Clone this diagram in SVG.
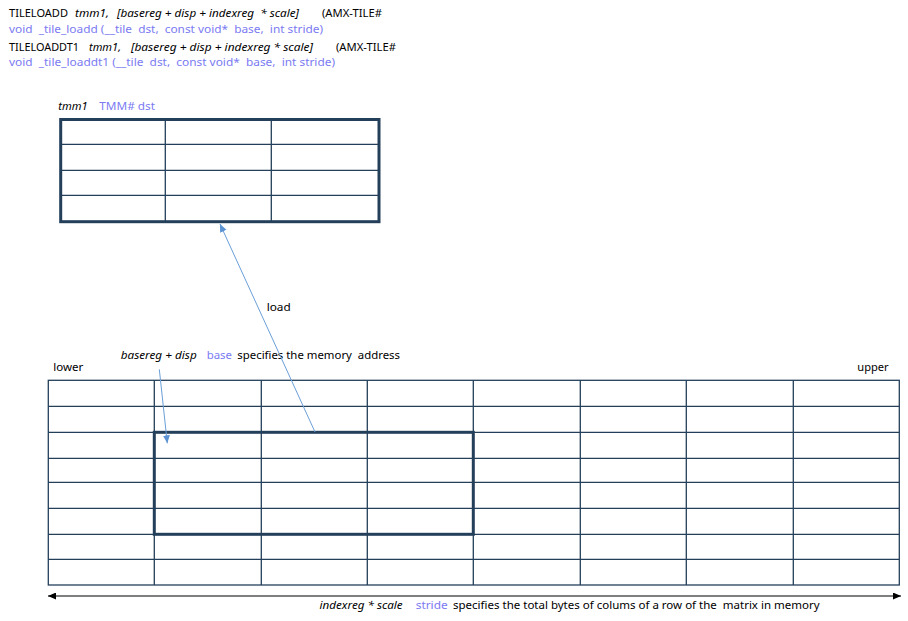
<svg xmlns="http://www.w3.org/2000/svg" width="908" height="621" viewBox="0 0 908 621">
<style>
text{font-family:"Noto Sans","Liberation Sans",Arial,sans-serif;font-size:10px;fill:#000;white-space:pre}
.i{font-style:italic}
.b{fill:#7b7bf2}
.g{stroke:#243f5a;stroke-width:1.3;fill:none}
.t{stroke:#243f5a;stroke-width:3;fill:none}
.a{stroke:#6a9fd8;stroke-width:1;fill:none}
.k{stroke:#000;stroke-width:1.2;fill:none}
</style>
<defs>
<marker id="ba" markerUnits="userSpaceOnUse" markerWidth="10" markerHeight="10" refX="8" refY="3.5" orient="auto">
<path d="M0,0 L8,3.5 L0,7 Z" fill="#5b93d3"/>
</marker>
<marker id="ke" markerUnits="userSpaceOnUse" markerWidth="10" markerHeight="10" refX="8" refY="3.5" orient="auto">
<path d="M0,0 L8,3.5 L0,7 Z" fill="#000"/>
</marker>
<marker id="ks" markerUnits="userSpaceOnUse" markerWidth="10" markerHeight="10" refX="0" refY="3.5" orient="auto">
<path d="M8,0 L0,3.5 L8,7 Z" fill="#000"/>
</marker>
</defs>

<g id="header">
<text x="9" y="17" textLength="59" lengthAdjust="spacingAndGlyphs">TILELOADD</text>
<text class="i" x="75" y="17" textLength="34" lengthAdjust="spacingAndGlyphs">tmm1,</text>
<text class="i" x="117" y="17" textLength="182" lengthAdjust="spacingAndGlyphs">[basereg + disp + indexreg  * scale]</text>
<text x="322" y="17" textLength="60" lengthAdjust="spacingAndGlyphs">(AMX-TILE#</text>
<text class="b" x="9" y="32.5" textLength="314" lengthAdjust="spacingAndGlyphs">void  _tile_loadd (__tile  dst,  const void*  base,  int stride)</text>
<text x="9" y="51" textLength="70" lengthAdjust="spacingAndGlyphs">TILELOADDT1</text>
<text class="i" x="89" y="51" textLength="32" lengthAdjust="spacingAndGlyphs">tmm1,</text>
<text class="i" x="131" y="51" textLength="182" lengthAdjust="spacingAndGlyphs">[basereg + disp + indexreg * scale]</text>
<text x="336" y="51" textLength="60" lengthAdjust="spacingAndGlyphs">(AMX-TILE#</text>
<text class="b" x="9" y="66" textLength="326" lengthAdjust="spacingAndGlyphs">void  _tile_loaddt1 (__tile  dst,  const void*  base,  int stride)</text>
</g>

<g id="tile">
<text class="i" x="58.3" y="110" textLength="29.4" lengthAdjust="spacingAndGlyphs">tmm1</text>
<text class="b" x="99.3" y="110" textLength="55.7" lengthAdjust="spacingAndGlyphs">TMM# dst</text>
<path class="g" d="M165.3,119.5V221.7M271.3,119.5V221.7M60.7,144.3H379M60.7,170.3H379M60.7,195.3H379"/>
<rect class="t" x="60.7" y="119.5" width="318.3" height="102.2"/>
</g>

<g id="memory">
<text x="53.3" y="370.7" textLength="30" lengthAdjust="spacingAndGlyphs">lower</text>
<text x="857.3" y="370.7" textLength="31.4" lengthAdjust="spacingAndGlyphs">upper</text>
<text class="i" x="120.7" y="359.3" textLength="76" lengthAdjust="spacingAndGlyphs">basereg + disp</text>
<text class="b" x="206.7" y="359.3" textLength="25.3" lengthAdjust="spacingAndGlyphs">base</text>
<text x="237.3" y="359.3" textLength="162.7" lengthAdjust="spacingAndGlyphs">specifies the memory  address</text>
<rect class="g" x="48.3" y="380.3" width="851" height="204.7"/>
<path class="g" d="M154.3,380.3V585M261.3,380.3V585M367.3,380.3V585M473.3,380.3V585M580.3,380.3V585M686.3,380.3V585M793.3,380.3V585M48.3,406.3H899.3M48.3,432.3H899.3M48.3,458.3H899.3M48.3,482.3H899.3M48.3,508.3H899.3M48.3,534.3H899.3M48.3,559.3H899.3"/>
<rect class="t" x="154.3" y="432.3" width="319" height="102"/>
<text class="i" x="319.6" y="609" textLength="83" lengthAdjust="spacingAndGlyphs">indexreg * scale</text>
<text class="b" x="415.7" y="609" textLength="32" lengthAdjust="spacingAndGlyphs">stride</text>
<text x="453" y="609" textLength="366.6" lengthAdjust="spacingAndGlyphs">specifies the total bytes of colums of a row of the  matrix in memory</text>
</g>

<g id="connectors">
<line class="a" x1="315" y1="432" x2="220" y2="224" marker-end="url(#ba)"/>
<text x="266.7" y="310.7" textLength="24" lengthAdjust="spacingAndGlyphs">load</text>
<line class="a" x1="159.3" y1="369.3" x2="167.3" y2="443.3" marker-end="url(#ba)"/>
<line class="k" x1="48" y1="596" x2="901" y2="596" marker-start="url(#ks)" marker-end="url(#ke)"/>
</g>
</svg>
